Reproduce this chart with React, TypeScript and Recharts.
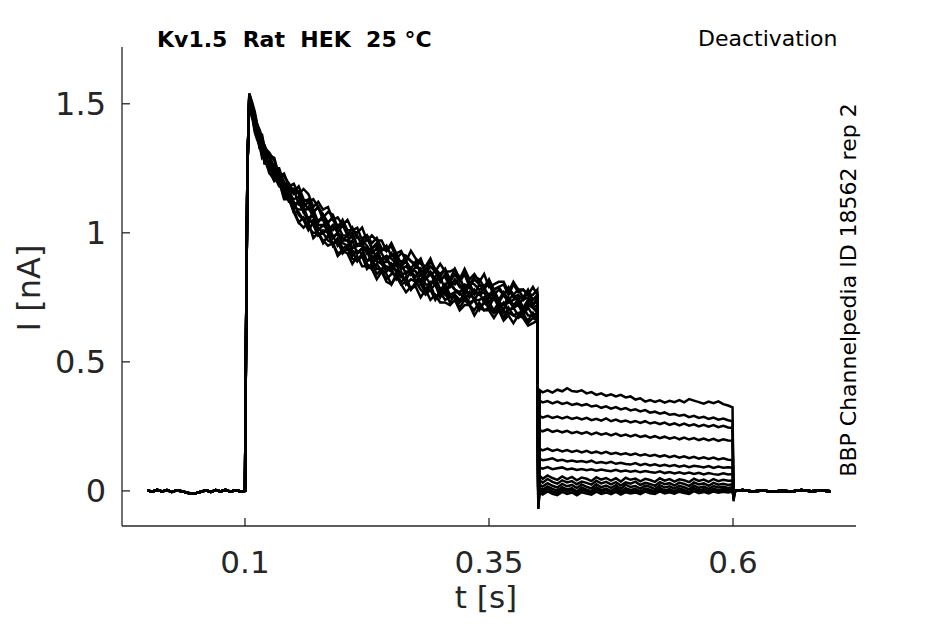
import { LineChart, Line, XAxis, YAxis } from 'recharts';

// time grid (s) and current (nA)
const PRE_T = [0, 0.005, 0.01, 0.015, 0.02, 0.025, 0.03, 0.035, 0.04, 0.045, 0.05, 0.055, 0.06, 0.065, 0.07, 0.075, 0.08, 0.085, 0.09, 0.095, 0.1];
const PRE_I = [0.002, -0.003, 0.004, -0.002, 0.003, -0.004, 0.002, -0.001, -0.006, -0.011, -0.008, -0.003, 0.002, -0.004, 0.003, -0.002, 0.004, -0.003, 0.002, -0.001, 0];

const RISE_T = [0.101, 0.1025];
const RISE_I = [0.55, 1.25];

const ACT_T = [
  0.1044, 0.107, 0.11, 0.1125, 0.115, 0.1175, 0.12, 0.125, 0.13, 0.135, 0.14, 0.145, 0.15, 0.155, 0.16, 0.165,
  0.17, 0.175, 0.18, 0.185, 0.19, 0.195, 0.2, 0.205, 0.21, 0.215, 0.22, 0.225, 0.23, 0.235, 0.24, 0.245, 0.25,
  0.255, 0.26, 0.265, 0.27, 0.275, 0.28, 0.285, 0.29, 0.295, 0.3, 0.305, 0.31, 0.315, 0.32, 0.325, 0.33, 0.335,
  0.34, 0.345, 0.35, 0.355, 0.36, 0.365, 0.37, 0.375, 0.38, 0.385, 0.39, 0.395, 0.3995,
];

const ACT_1 = [1.54, 1.5, 1.44, 1.42, 1.39, 1.35, 1.33, 1.3, 1.25, 1.25, 1.19, 1.19, 1.15, 1.16, 1.12, 1.13, 1.08, 1.1, 1.07, 1.04, 1.06, 1.02, 1.03, 0.99, 1.02, 0.98, 0.98, 0.99, 0.94, 0.96, 0.93, 0.95, 0.91, 0.92, 0.88, 0.91, 0.89, 0.87, 0.89, 0.84, 0.87, 0.85, 0.83, 0.86, 0.81, 0.84, 0.81, 0.84, 0.79, 0.82, 0.8, 0.78, 0.81, 0.78, 0.79, 0.76, 0.79, 0.76, 0.78, 0.75, 0.78, 0.74, 0.76];
const ACT_2 = [1.52, 1.48, 1.41, 1.39, 1.37, 1.32, 1.31, 1.24, 1.24, 1.21, 1.15, 1.17, 1.1, 1.09, 1.09, 1.04, 1.05, 1.02, 1.0, 1.02, 0.99, 0.95, 0.97, 0.97, 0.93, 0.92, 0.94, 0.89, 0.91, 0.89, 0.88, 0.85, 0.88, 0.85, 0.83, 0.82, 0.85, 0.81, 0.82, 0.78, 0.81, 0.8, 0.76, 0.8, 0.76, 0.77, 0.77, 0.74, 0.77, 0.74, 0.74, 0.75, 0.71, 0.75, 0.71, 0.73, 0.7, 0.71, 0.73, 0.68, 0.71, 0.68, 0.69];
const ACT_3 = [1.53, 1.5, 1.46, 1.42, 1.38, 1.38, 1.33, 1.3, 1.29, 1.22, 1.22, 1.19, 1.16, 1.18, 1.13, 1.12, 1.13, 1.1, 1.06, 1.08, 1.07, 1.02, 1.05, 1.01, 1.01, 1.02, 0.97, 0.99, 0.96, 0.98, 0.94, 0.93, 0.95, 0.9, 0.92, 0.91, 0.89, 0.88, 0.9, 0.85, 0.89, 0.86, 0.84, 0.86, 0.82, 0.86, 0.82, 0.84, 0.8, 0.83, 0.82, 0.79, 0.82, 0.78, 0.79, 0.8, 0.76, 0.8, 0.77, 0.78, 0.76, 0.76, 0.78];
const ACT_4 = [1.53, 1.47, 1.44, 1.38, 1.37, 1.34, 1.33, 1.25, 1.25, 1.21, 1.17, 1.18, 1.11, 1.12, 1.1, 1.05, 1.08, 1.03, 1.03, 1.04, 0.98, 1.0, 0.97, 0.99, 0.94, 0.95, 0.95, 0.94, 0.9, 0.92, 0.88, 0.89, 0.88, 0.85, 0.88, 0.84, 0.86, 0.85, 0.81, 0.83, 0.8, 0.83, 0.78, 0.8, 0.81, 0.78, 0.77, 0.79, 0.75, 0.78, 0.76, 0.77, 0.73, 0.76, 0.73, 0.72, 0.75, 0.72, 0.74, 0.7, 0.73, 0.71, 0.7];
const ACT_5 = [1.52, 1.46, 1.4, 1.38, 1.34, 1.29, 1.3, 1.24, 1.2, 1.21, 1.14, 1.14, 1.09, 1.04, 1.06, 1.02, 1.0, 1.0, 0.96, 0.99, 0.96, 0.92, 0.93, 0.94, 0.9, 0.89, 0.91, 0.86, 0.88, 0.84, 0.86, 0.84, 0.8, 0.84, 0.8, 0.81, 0.78, 0.81, 0.78, 0.76, 0.78, 0.74, 0.77, 0.74, 0.75, 0.75, 0.71, 0.74, 0.72, 0.7, 0.73, 0.7, 0.71, 0.69, 0.71, 0.67, 0.69, 0.68, 0.67, 0.69, 0.65, 0.67, 0.66];
const ACT_6 = [1.53, 1.5, 1.44, 1.4, 1.39, 1.33, 1.32, 1.29, 1.23, 1.24, 1.19, 1.15, 1.17, 1.11, 1.12, 1.09, 1.09, 1.04, 1.07, 1.03, 1.01, 1.03, 0.99, 0.99, 1.0, 0.95, 0.97, 0.95, 0.92, 0.94, 0.89, 0.91, 0.9, 0.88, 0.87, 0.89, 0.84, 0.87, 0.86, 0.82, 0.85, 0.82, 0.82, 0.83, 0.79, 0.82, 0.79, 0.8, 0.79, 0.76, 0.8, 0.78, 0.76, 0.78, 0.74, 0.77, 0.74, 0.76, 0.73, 0.74, 0.75, 0.72, 0.74];
const ACT_7 = [1.52, 1.47, 1.42, 1.38, 1.33, 1.33, 1.27, 1.28, 1.22, 1.18, 1.17, 1.12, 1.12, 1.07, 1.05, 1.06, 1.03, 0.99, 1.01, 1.0, 0.95, 0.98, 0.94, 0.95, 0.91, 0.93, 0.92, 0.89, 0.9, 0.86, 0.86, 0.87, 0.86, 0.82, 0.85, 0.8, 0.82, 0.81, 0.81, 0.78, 0.78, 0.8, 0.75, 0.78, 0.75, 0.76, 0.74, 0.76, 0.73, 0.74, 0.71, 0.73, 0.73, 0.7, 0.73, 0.69, 0.7, 0.71, 0.68, 0.71, 0.68, 0.68, 0.67];
const ACT_8 = [1.53, 1.5, 1.44, 1.42, 1.38, 1.34, 1.34, 1.29, 1.25, 1.24, 1.18, 1.18, 1.16, 1.16, 1.1, 1.12, 1.08, 1.1, 1.05, 1.04, 1.06, 1.0, 1.03, 1.0, 0.98, 0.99, 0.95, 0.98, 0.94, 0.95, 0.92, 0.89, 0.92, 0.89, 0.89, 0.89, 0.86, 0.89, 0.84, 0.86, 0.84, 0.85, 0.81, 0.84, 0.81, 0.8, 0.83, 0.78, 0.81, 0.8, 0.78, 0.79, 0.8, 0.76, 0.78, 0.76, 0.78, 0.75, 0.76, 0.74, 0.77, 0.72, 0.75];
const ACT_9 = [1.53, 1.46, 1.42, 1.4, 1.34, 1.34, 1.3, 1.25, 1.26, 1.19, 1.17, 1.16, 1.1, 1.12, 1.08, 1.05, 1.07, 1.01, 1.03, 1.01, 0.98, 1.0, 0.96, 0.95, 0.97, 0.92, 0.94, 0.93, 0.88, 0.9, 0.9, 0.86, 0.85, 0.88, 0.83, 0.85, 0.85, 0.81, 0.84, 0.8, 0.8, 0.82, 0.78, 0.76, 0.8, 0.78, 0.76, 0.77, 0.77, 0.74, 0.77, 0.73, 0.75, 0.74, 0.74, 0.7, 0.74, 0.71, 0.72, 0.69, 0.72, 0.71, 0.69];
const ACT_10 = [1.54, 1.51, 1.47, 1.42, 1.4, 1.37, 1.33, 1.31, 1.28, 1.22, 1.23, 1.18, 1.19, 1.15, 1.17, 1.15, 1.1, 1.12, 1.09, 1.1, 1.05, 1.06, 1.03, 1.05, 1.01, 1.0, 1.02, 0.97, 0.99, 0.97, 0.97, 0.93, 0.96, 0.92, 0.93, 0.89, 0.93, 0.9, 0.88, 0.87, 0.9, 0.85, 0.88, 0.85, 0.85, 0.86, 0.82, 0.86, 0.82, 0.84, 0.81, 0.84, 0.79, 0.8, 0.81, 0.81, 0.77, 0.81, 0.78, 0.78, 0.76, 0.79, 0.76];
const ACT_11 = [1.51, 1.46, 1.39, 1.36, 1.34, 1.3, 1.29, 1.23, 1.21, 1.2, 1.13, 1.13, 1.08, 1.04, 1.02, 1.04, 0.98, 1.0, 0.97, 0.95, 0.96, 0.91, 0.93, 0.92, 0.88, 0.91, 0.87, 0.87, 0.86, 0.82, 0.85, 0.81, 0.8, 0.83, 0.8, 0.77, 0.79, 0.79, 0.75, 0.78, 0.74, 0.76, 0.73, 0.73, 0.72, 0.74, 0.7, 0.72, 0.72, 0.68, 0.71, 0.7, 0.7, 0.67, 0.7, 0.66, 0.68, 0.65, 0.68, 0.67, 0.64, 0.65, 0.66];
const ACT_12 = [1.53, 1.49, 1.44, 1.39, 1.37, 1.35, 1.3, 1.3, 1.22, 1.23, 1.2, 1.15, 1.13, 1.14, 1.08, 1.1, 1.06, 1.05, 1.05, 1.01, 1.03, 1.0, 0.98, 0.97, 0.99, 0.95, 0.96, 0.92, 0.94, 0.9, 0.9, 0.91, 0.86, 0.9, 0.86, 0.87, 0.85, 0.83, 0.86, 0.82, 0.84, 0.81, 0.83, 0.78, 0.8, 0.81, 0.8, 0.76, 0.8, 0.77, 0.76, 0.79, 0.75, 0.77, 0.73, 0.76, 0.73, 0.74, 0.75, 0.71, 0.74, 0.71, 0.72];
const ACT_13 = [1.52, 1.45, 1.42, 1.37, 1.33, 1.34, 1.27, 1.26, 1.22, 1.2, 1.14, 1.16, 1.08, 1.08, 1.05, 1.01, 1.04, 0.99, 1.0, 0.97, 0.96, 0.97, 0.92, 0.94, 0.93, 0.89, 0.92, 0.88, 0.86, 0.88, 0.85, 0.82, 0.84, 0.84, 0.81, 0.83, 0.78, 0.8, 0.8, 0.77, 0.8, 0.75, 0.77, 0.77, 0.73, 0.76, 0.73, 0.75, 0.72, 0.74, 0.7, 0.73, 0.71, 0.69, 0.71, 0.67, 0.71, 0.68, 0.69, 0.68, 0.66, 0.69, 0.66];

// transient dips at the two voltage steps
const DIP_ON = [-0.07, -0.06, -0.05, -0.06, -0.04, -0.05, -0.03, -0.06, -0.04, -0.07, -0.05, -0.03, -0.06];
const DIP_OFF = [-0.03, -0.02, -0.03, -0.01, -0.02, -0.04, -0.02, -0.01, -0.02, -0.03, -0.01, -0.02, -0.02];

const TAIL_T = [
  0.402, 0.405, 0.41, 0.415, 0.42, 0.425, 0.43, 0.435, 0.44, 0.445, 0.45, 0.455, 0.46, 0.465, 0.47, 0.475, 0.48,
  0.485, 0.49, 0.495, 0.5, 0.505, 0.51, 0.515, 0.52, 0.525, 0.53, 0.535, 0.54, 0.545, 0.55, 0.555, 0.56, 0.565,
  0.57, 0.575, 0.58, 0.585, 0.59, 0.595, 0.5995,
];

const TAIL_1 = [0.39, 0.382, 0.39, 0.381, 0.392, 0.386, 0.398, 0.387, 0.384, 0.39, 0.378, 0.383, 0.372, 0.378, 0.368, 0.374, 0.366, 0.372, 0.362, 0.366, 0.354, 0.359, 0.346, 0.352, 0.345, 0.351, 0.342, 0.349, 0.344, 0.352, 0.343, 0.356, 0.35, 0.344, 0.338, 0.346, 0.34, 0.347, 0.336, 0.331, 0.324];
const TAIL_2 = [0.349, 0.343, 0.348, 0.339, 0.346, 0.337, 0.342, 0.333, 0.338, 0.331, 0.336, 0.327, 0.331, 0.322, 0.328, 0.319, 0.325, 0.316, 0.321, 0.312, 0.316, 0.308, 0.313, 0.303, 0.307, 0.299, 0.304, 0.295, 0.298, 0.291, 0.295, 0.286, 0.291, 0.283, 0.287, 0.279, 0.284, 0.276, 0.28, 0.274, 0.27];
const TAIL_3 = [0.29, 0.284, 0.291, 0.283, 0.288, 0.281, 0.287, 0.279, 0.284, 0.277, 0.283, 0.274, 0.279, 0.272, 0.281, 0.27, 0.276, 0.268, 0.273, 0.265, 0.271, 0.263, 0.27, 0.261, 0.266, 0.259, 0.265, 0.256, 0.262, 0.254, 0.261, 0.253, 0.258, 0.25, 0.256, 0.249, 0.255, 0.247, 0.252, 0.246, 0.244];
const TAIL_4 = [0.236, 0.231, 0.238, 0.229, 0.234, 0.227, 0.233, 0.224, 0.229, 0.222, 0.228, 0.219, 0.226, 0.218, 0.223, 0.215, 0.222, 0.213, 0.218, 0.211, 0.217, 0.209, 0.214, 0.206, 0.212, 0.204, 0.21, 0.202, 0.208, 0.2, 0.207, 0.199, 0.205, 0.197, 0.203, 0.196, 0.202, 0.194, 0.2, 0.195, 0.194];
const TAIL_5 = [0.163, 0.157, 0.164, 0.155, 0.16, 0.153, 0.158, 0.151, 0.156, 0.149, 0.155, 0.147, 0.152, 0.145, 0.151, 0.143, 0.148, 0.141, 0.146, 0.139, 0.145, 0.137, 0.142, 0.135, 0.14, 0.133, 0.138, 0.131, 0.136, 0.129, 0.134, 0.127, 0.132, 0.125, 0.13, 0.124, 0.129, 0.122, 0.126, 0.121, 0.12];
const TAIL_6 = [0.124, 0.119, 0.122, 0.126, 0.117, 0.121, 0.114, 0.118, 0.113, 0.116, 0.111, 0.117, 0.108, 0.112, 0.107, 0.113, 0.105, 0.109, 0.104, 0.102, 0.108, 0.1, 0.105, 0.099, 0.103, 0.097, 0.101, 0.096, 0.1, 0.094, 0.098, 0.092, 0.097, 0.095, 0.091, 0.096, 0.089, 0.094, 0.09, 0.092, 0.09];
const TAIL_7 = [0.09, 0.086, 0.092, 0.084, 0.088, 0.091, 0.083, 0.087, 0.081, 0.085, 0.08, 0.084, 0.078, 0.083, 0.079, 0.076, 0.082, 0.075, 0.079, 0.074, 0.078, 0.072, 0.077, 0.073, 0.07, 0.076, 0.069, 0.073, 0.068, 0.072, 0.067, 0.071, 0.066, 0.07, 0.064, 0.069, 0.065, 0.063, 0.068, 0.064, 0.065];
const TAIL_8 = [0.058, 0.047, 0.06, 0.05, 0.043, 0.056, 0.046, 0.054, 0.041, 0.052, 0.047, 0.038, 0.053, 0.044, 0.05, 0.04, 0.049, 0.036, 0.051, 0.043, 0.048, 0.037, 0.047, 0.042, 0.035, 0.049, 0.04, 0.046, 0.036, 0.045, 0.041, 0.034, 0.047, 0.039, 0.044, 0.035, 0.046, 0.038, 0.043, 0.039, 0.04];
const TAIL_9 = [0.04, 0.032, 0.046, 0.035, 0.028, 0.041, 0.033, 0.038, 0.026, 0.036, 0.031, 0.024, 0.039, 0.029, 0.035, 0.025, 0.034, 0.021, 0.033, 0.028, 0.036, 0.023, 0.031, 0.027, 0.02, 0.034, 0.026, 0.03, 0.021, 0.032, 0.027, 0.019, 0.033, 0.025, 0.029, 0.02, 0.031, 0.024, 0.028, 0.023, 0.026];
const TAIL_10 = [0.024, 0.017, 0.03, 0.02, 0.013, 0.027, 0.018, 0.023, 0.011, 0.025, 0.016, 0.01, 0.026, 0.014, 0.021, 0.012, 0.022, 0.008, 0.024, 0.015, 0.019, 0.009, 0.021, 0.016, 0.007, 0.022, 0.013, 0.018, 0.009, 0.02, 0.014, 0.006, 0.021, 0.012, 0.017, 0.008, 0.019, 0.013, 0.016, 0.011, 0.015];
const TAIL_11 = [0.012, 0.004, 0.017, 0.008, 0.001, 0.014, 0.006, 0.011, -0.002, 0.013, 0.005, -0.001, 0.014, 0.003, 0.009, 0, 0.012, -0.003, 0.011, 0.004, 0.008, -0.002, 0.01, 0.005, -0.003, 0.011, 0.002, 0.007, -0.002, 0.01, 0.004, -0.004, 0.011, 0.002, 0.007, -0.001, 0.009, 0.003, 0.008, 0.004, 0.006];
const TAIL_12 = [0.002, -0.005, 0.008, -0.002, -0.008, 0.006, -0.003, 0.004, -0.009, 0.005, -0.002, -0.007, 0.007, -0.004, 0.003, -0.006, 0.005, -0.009, 0.004, -0.003, 0.002, -0.008, 0.005, -0.001, -0.007, 0.006, -0.004, 0.002, -0.008, 0.004, -0.002, -0.009, 0.005, -0.004, 0.003, -0.006, 0.004, -0.003, 0.002, -0.002, 0];
const TAIL_13 = [-0.008, -0.014, -0.002, -0.011, -0.016, -0.004, -0.012, -0.006, -0.017, -0.005, -0.01, -0.015, -0.003, -0.012, -0.006, -0.013, -0.004, -0.014, -0.005, -0.01, -0.006, -0.013, -0.003, -0.009, -0.012, -0.002, -0.01, -0.005, -0.011, -0.003, -0.008, -0.012, -0.001, -0.009, -0.004, -0.01, -0.002, -0.007, -0.003, -0.006, -0.002];

const POST_T = [0.602, 0.61, 0.62, 0.63, 0.64, 0.65, 0.66, 0.67, 0.68, 0.69, 0.7];
const POST_I = [0, 0.003, -0.002, 0.002, -0.003, 0.001, -0.002, 0.003, -0.001, 0.002, -0.001];

const ACT = [ACT_1, ACT_2, ACT_3, ACT_4, ACT_5, ACT_6, ACT_7, ACT_8, ACT_9, ACT_10, ACT_11, ACT_12, ACT_13];
const TAIL = [TAIL_1, TAIL_2, TAIL_3, TAIL_4, TAIL_5, TAIL_6, TAIL_7, TAIL_8, TAIL_9, TAIL_10, TAIL_11, TAIL_12, TAIL_13];

const X_TICKS = [0.1, 0.35, 0.6];
const Y_TICKS = [0, 0.5, 1, 1.5];

function buildSweep(k: number) {
  const pts: { t: number; i: number }[] = [];
  PRE_T.forEach((t, j) => pts.push({ t, i: PRE_I[j] }));
  RISE_T.forEach((t, j) => pts.push({ t, i: RISE_I[j] }));
  ACT_T.forEach((t, j) => pts.push({ t, i: ACT[k][j] }));
  pts.push({ t: 0.4005, i: DIP_ON[k] });
  TAIL_T.forEach((t, j) => pts.push({ t, i: TAIL[k][j] }));
  pts.push({ t: 0.6005, i: DIP_OFF[k] });
  POST_T.forEach((t, j) => pts.push({ t, i: POST_I[j] }));
  return pts;
}

const SWEEPS = ACT.map((_, k) => buildSweep(k));

const FONT = 'DejaVu Sans';
const AX = '#262626';

export default function App() {
  return (
    <div style={{ position: 'absolute', left: 0, top: 0, background: '#fff' }}>
      <LineChart width={945} height={624} margin={{ top: 47, right: 89, left: 32, bottom: 18 }}>
        <XAxis
          type="number"
          dataKey="t"
          domain={[-0.026, 0.726]}
          ticks={X_TICKS}
          interval={0}
          allowDataOverflow
          height={80}
          tickSize={-8}
          tickMargin={33}
          axisLine={{ stroke: AX, strokeWidth: 1.3 }}
          tickLine={{ stroke: AX, strokeWidth: 1.3 }}
          tick={{ fill: AX, fontSize: 31, fontFamily: FONT }}
          label={{ value: 't [s]', position: 'insideBottom', offset: -2, dx: -3, fill: AX, fontSize: 31, fontFamily: FONT }}
        />
        <YAxis
          type="number"
          domain={[-0.136, 1.72]}
          ticks={Y_TICKS}
          interval={0}
          allowDataOverflow
          width={90}
          tickSize={-8}
          tickMargin={24}
          axisLine={{ stroke: AX, strokeWidth: 1.3 }}
          tickLine={{ stroke: AX, strokeWidth: 1.3 }}
          tick={{ fill: AX, fontSize: 32, fontFamily: FONT }}
        />
        {SWEEPS.map((d, k) => (
          <Line
            key={k}
            data={d}
            dataKey="i"
            type="linear"
            stroke="#000"
            strokeWidth={2.5}
            dot={false}
            activeDot={false}
            isAnimationActive={false}
          />
        ))}
        <text x={40} y={288} transform="rotate(-90 40 288)" textAnchor="middle" fontSize={32} fontFamily={FONT} fill={AX}>I [nA]</text>
        <text x={157} y={47} fontSize={22} fontWeight="bold" fontFamily={FONT} fill="#000" style={{ whiteSpace: 'pre' }}>Kv1.5  Rat  HEK  25 °C</text>
        <text x={698} y={46} fontSize={22} fontFamily={FONT} fill="#000">Deactivation</text>
        <text x={856} y={290} transform="rotate(-90 856 290)" textAnchor="middle" fontSize={22} fontFamily={FONT} fill="#000">BBP Channelpedia ID 18562 rep 2</text>
      </LineChart>
    </div>
  );
}
